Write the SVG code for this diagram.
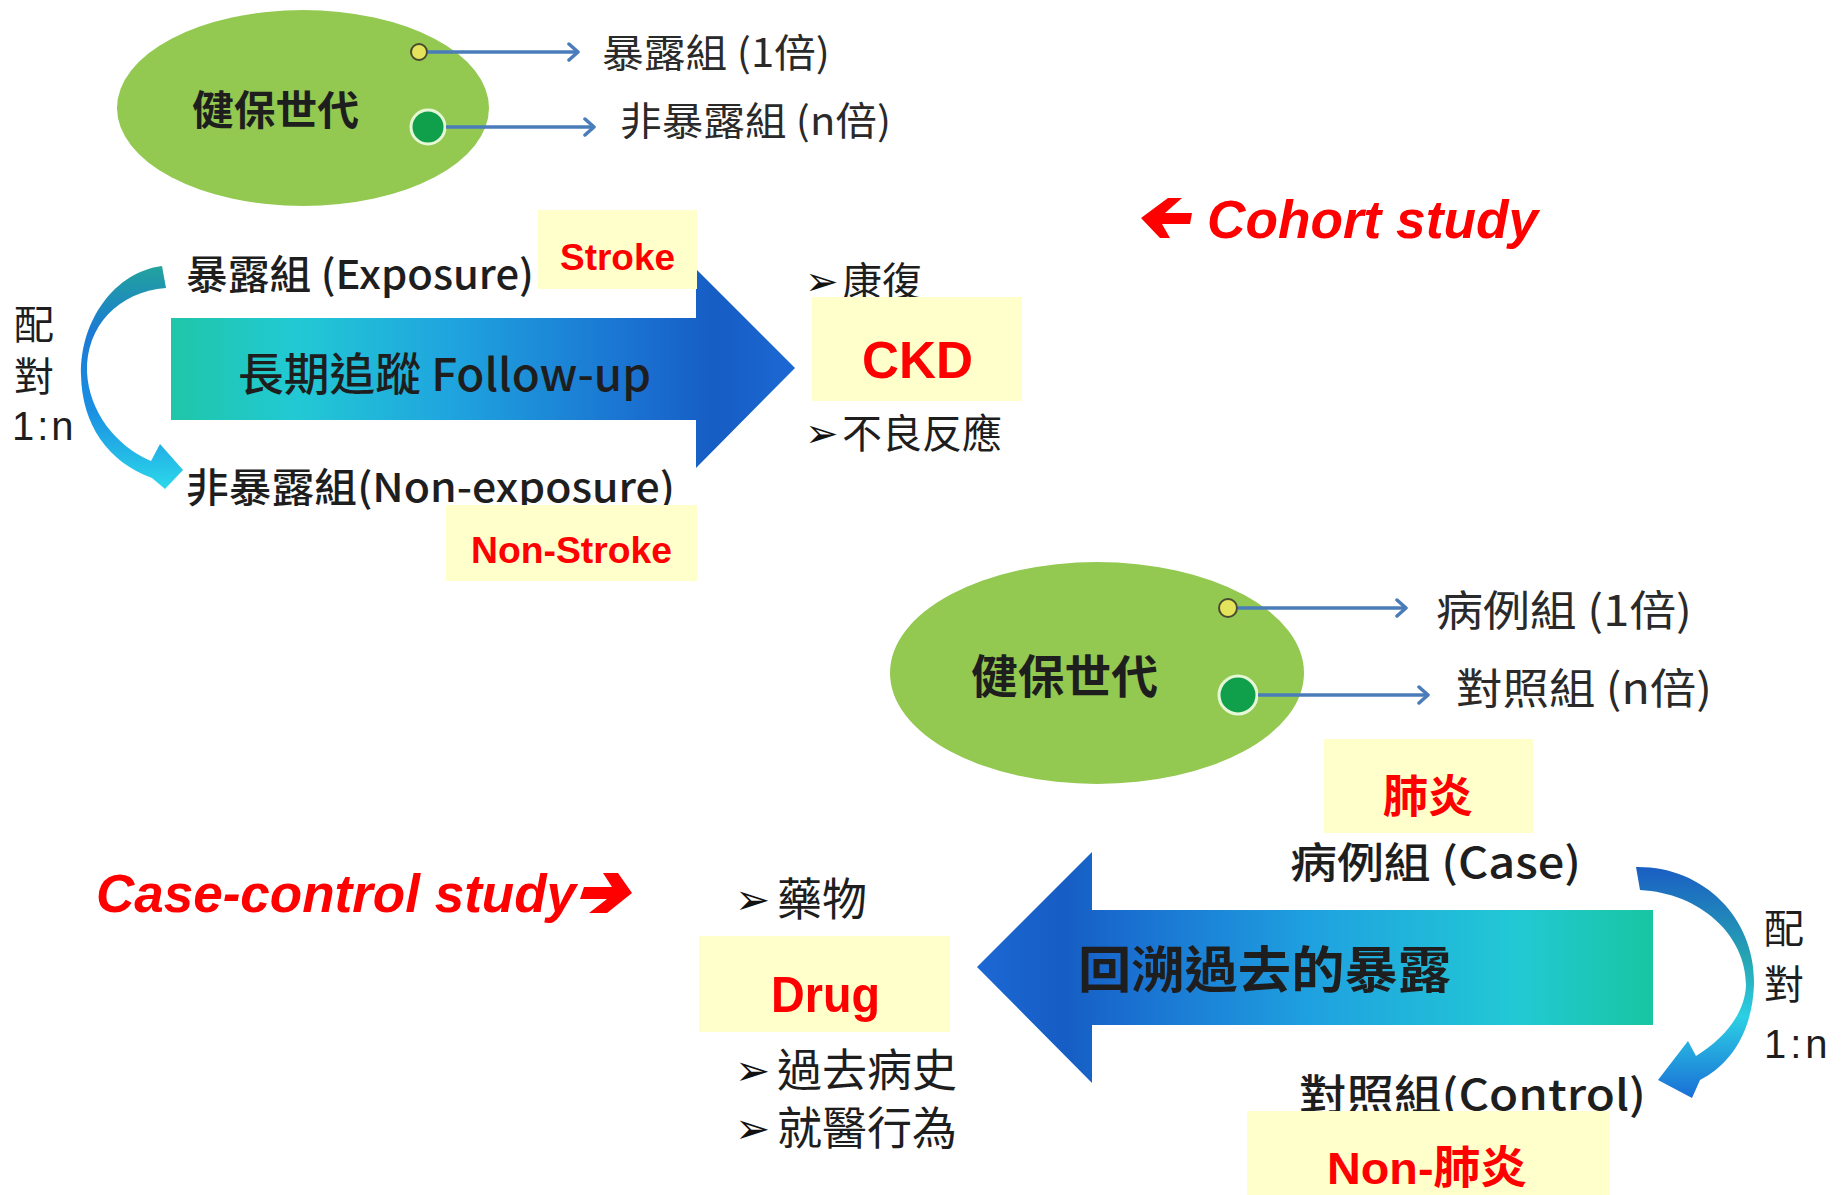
<svg xmlns="http://www.w3.org/2000/svg" width="1845" height="1195" viewBox="0 0 1845 1195">
<style>
.cjk{font-family:'Noto Sans CJK TC','Noto Sans CJK SC',sans-serif;fill:#1e1e1e;}
.tight{font-family:'Liberation Sans','Noto Sans CJK TC','Noto Sans CJK SC',sans-serif;fill:#1e1e1e;}
.lbl{font-family:'Noto Sans CJK TC','Noto Sans CJK SC',sans-serif;fill:#2a2a2a;}
.red{font-family:'Liberation Sans','Noto Sans CJK TC',sans-serif;font-weight:700;fill:#ff0000;}
.bul{font-family:'DejaVu Sans',sans-serif;font-weight:700;fill:#111;}
.box{fill:#ffffcc;}
.conn{stroke:#4a7cba;stroke-width:3.5;fill:none;}
.ell{fill:#93c851;}
.dotY{fill:#e4e45c;stroke:#4a4a30;stroke-width:2;}
.dotG{fill:#10a04c;stroke:#e6f7d6;stroke-width:3;}
</style>
<defs>
<marker id="chev" markerUnits="userSpaceOnUse" markerWidth="16" markerHeight="20" refX="11" refY="10" orient="auto">
<path d="M2,2 L11,10 L2,18" fill="none" stroke="#4a7cba" stroke-width="3.5" stroke-linecap="round" stroke-linejoin="round"/>
</marker>
<linearGradient id="gRight" gradientUnits="userSpaceOnUse" x1="171" y1="0" x2="795" y2="0">
<stop offset="0" stop-color="#1fc6a8"/>
<stop offset="0.2" stop-color="#22c9d4"/>
<stop offset="0.45" stop-color="#1fa4df"/>
<stop offset="0.75" stop-color="#1a70d0"/>
<stop offset="0.87" stop-color="#165dc4"/>
<stop offset="1" stop-color="#1c68d4"/>
</linearGradient>
<linearGradient id="gLeft" gradientUnits="userSpaceOnUse" x1="977" y1="0" x2="1653" y2="0">
<stop offset="0" stop-color="#1c68d4"/>
<stop offset="0.13" stop-color="#165dc4"/>
<stop offset="0.25" stop-color="#1a74d2"/>
<stop offset="0.5" stop-color="#1fa2e0"/>
<stop offset="0.8" stop-color="#22c9d4"/>
<stop offset="1" stop-color="#18c6a2"/>
</linearGradient>
<linearGradient id="gCurveL" x1="0" y1="0" x2="0" y2="1">
<stop offset="0" stop-color="#22a39c"/>
<stop offset="0.3" stop-color="#1b7ad4"/>
<stop offset="0.65" stop-color="#1a90e2"/>
<stop offset="1" stop-color="#2cd8ea"/>
</linearGradient>
<linearGradient id="gCurveR" x1="0" y1="0" x2="0" y2="1">
<stop offset="0" stop-color="#1a5ec4"/>
<stop offset="0.4" stop-color="#26a6b2"/>
<stop offset="0.65" stop-color="#2ccfe4"/>
<stop offset="1" stop-color="#1a6ed6"/>
</linearGradient>
</defs>

<!-- Top cohort ellipse -->
<g id="cohort-pop">
<ellipse class="ell" cx="303" cy="108" rx="186" ry="98"/>
<text class="cjk" x="192" y="107" font-size="41" font-weight="700" dominant-baseline="central" textLength="167" lengthAdjust="spacingAndGlyphs">健保世代</text>
<circle class="dotY" cx="419" cy="52" r="8"/>
<circle class="dotG" cx="428" cy="127" r="17"/>
</g>
<g id="exposed-1x">
<text class="lbl" x="602" y="50" font-size="39" dominant-baseline="central" textLength="228" lengthAdjust="spacingAndGlyphs" fill="#333">暴露組 (1倍)</text>
</g>
<g id="nonexposed-nx">
<text class="lbl" x="620" y="118" font-size="39" dominant-baseline="central" textLength="271" lengthAdjust="spacingAndGlyphs">非暴露組 (n倍)</text>
</g>

<!-- Cohort study label -->
<g id="cohort-label">
<path d="M1141,218 L1168,198 L1182,198 L1165,213 L1192,213 L1190,224 L1162,224 L1170,238 L1160,238 Z" fill="#ff0000"/>
<text class="red" x="1207" y="238" font-size="53" font-style="italic" textLength="331" lengthAdjust="spacingAndGlyphs">Cohort study</text>
</g>

<!-- Follow-up big arrow -->
<g id="followup-arrow">
<path d="M171,318 L696,318 L696,269 L795,368 L696,468 L696,420 L171,420 Z" fill="url(#gRight)"/>
<text class="cjk" x="238" y="371" font-size="45" font-weight="500" dominant-baseline="central" textLength="413" lengthAdjust="spacingAndGlyphs">長期追蹤 Follow-up</text>
</g>

<g id="match-left">
<text class="tight" font-size="40" dominant-baseline="central"><tspan x="14" y="325">配</tspan><tspan x="14" y="377">對</tspan><tspan x="12" y="426" letter-spacing="3">1:n</tspan></text>
</g>

<g id="exposure-group">
<text class="cjk" x="186" y="272" font-size="40" font-weight="500" dominant-baseline="central" textLength="348" lengthAdjust="spacingAndGlyphs">暴露組 (Exposure)</text>
</g>
<g id="nonexposure-group">
<text class="cjk" x="186" y="485" font-size="40" font-weight="500" dominant-baseline="central" textLength="489" lengthAdjust="spacingAndGlyphs">非暴露組(Non-exposure)</text>
</g>

<g id="outcomes">
<text font-size="40" dominant-baseline="central"><tspan class="bul" x="805" y="281" font-size="40">➢</tspan><tspan class="cjk" x="842" y="279">康復</tspan><tspan class="bul" x="805" y="433" font-size="40">➢</tspan><tspan class="cjk" x="842" y="431">不良反應</tspan></text>
</g>

<g id="stroke-box">
<rect class="box" x="538" y="210" width="159" height="79"/>
<text class="red" x="560" y="270" font-size="36" textLength="115" lengthAdjust="spacingAndGlyphs">Stroke</text>
</g>
<g id="nonstroke-box">
<rect class="box" x="446" y="505" width="251" height="76"/>
<text class="red" x="471" y="563" font-size="36" textLength="201" lengthAdjust="spacingAndGlyphs">Non-Stroke</text>
</g>
<g id="ckd-box">
<rect class="box" x="812" y="297" width="210" height="104"/>
<text class="red" x="862" y="378" font-size="52" textLength="111" lengthAdjust="spacingAndGlyphs">CKD</text>
</g>

<!-- Bottom case-control ellipse -->
<g id="cc-pop">
<ellipse class="ell" cx="1097" cy="673" rx="207" ry="111"/>
<text class="cjk" x="971" y="673" font-size="46" font-weight="700" dominant-baseline="central" textLength="187" lengthAdjust="spacingAndGlyphs">健保世代</text>
<circle class="dotY" cx="1228" cy="608" r="9"/>
<circle class="dotG" cx="1238" cy="695" r="19"/>
</g>
<g id="case-1x">
<text class="lbl" x="1436" y="607" font-size="42" dominant-baseline="central" textLength="256" lengthAdjust="spacingAndGlyphs">病例組 (1倍)</text>
</g>
<g id="control-nx">
<text class="lbl" x="1456" y="685" font-size="42" dominant-baseline="central" textLength="256" lengthAdjust="spacingAndGlyphs">對照組 (n倍)</text>
</g>

<g id="pneumonia-box">
<rect class="box" x="1324" y="739" width="209" height="94"/>
<text class="red" x="1383" y="797" font-size="45" dominant-baseline="central" textLength="90" lengthAdjust="spacingAndGlyphs">肺炎</text>
</g>

<g id="case-group">
<text class="cjk" x="1290" y="859" font-size="42" font-weight="500" dominant-baseline="central" textLength="291" lengthAdjust="spacingAndGlyphs">病例組 (Case)</text>
</g>

<g id="retro-arrow">
<path d="M1653,910 L1092,910 L1092,852 L977,967 L1092,1083 L1092,1025 L1653,1025 Z" fill="url(#gLeft)"/>
<text class="cjk" x="1078" y="966" font-size="50" font-weight="700" dominant-baseline="central" textLength="373" lengthAdjust="spacingAndGlyphs">回溯過去的暴露</text>
</g>

<g id="match-right">
<text class="tight" font-size="40" dominant-baseline="central"><tspan x="1764" y="929">配</tspan><tspan x="1764" y="985">對</tspan><tspan x="1764" y="1044" letter-spacing="4">1:n</tspan></text>
</g>

<g id="control-group">
<text class="cjk" x="1299" y="1091" font-size="42" font-weight="500" dominant-baseline="central" textLength="347" lengthAdjust="spacingAndGlyphs">對照組(Control)</text>
</g>
<g id="nonpneumonia-box">
<rect class="box" x="1247" y="1111" width="363" height="84"/>
<text class="red" x="1327" y="1168" font-size="45" dominant-baseline="central" textLength="200" lengthAdjust="spacingAndGlyphs">Non-肺炎</text>
</g>

<g id="cc-label">
<text class="red" x="96" y="912" font-size="53" font-style="italic" textLength="480" lengthAdjust="spacingAndGlyphs">Case-control study</text>
<path d="M584,887 L612,887 L603,873 L618,873 L632,893 L607,913 L589,913 L607,899 L580,899 Z" fill="#ff0000"/>
</g>

<g id="exposures">
<text class="tight" font-size="45" dominant-baseline="central"><tspan class="bul" x="735" y="899" font-size="42">➢</tspan><tspan x="777" y="900">藥物</tspan><tspan class="bul" x="735" y="1070" font-size="42">➢</tspan><tspan x="777" y="1071">過去病史</tspan><tspan class="bul" x="735" y="1128" font-size="42">➢</tspan><tspan x="777" y="1129">就醫行為</tspan></text>
</g>
<g id="drug-box">
<rect class="box" x="699" y="936" width="251" height="96"/>
<text class="red" x="771" y="1012" font-size="50" textLength="109" lengthAdjust="spacingAndGlyphs">Drug</text>
</g>

<!-- Connectors -->
<g id="connectors">
<line class="conn" x1="428" y1="52" x2="578" y2="52" marker-end="url(#chev)"/>
<line class="conn" x1="446" y1="127" x2="594" y2="127" marker-end="url(#chev)"/>
<line class="conn" x1="1238" y1="608" x2="1406" y2="608" marker-end="url(#chev)"/>
<line class="conn" x1="1258" y1="695" x2="1428" y2="695" marker-end="url(#chev)"/>
<path d="M162,266 C115,272 80,320 81,375 C82,425 108,462 152,478 L165,489 L183,470 L160,444 L151,461 C116,446 89,412 87,372 C86,326 118,292 166,288 Z" fill="url(#gCurveL)"/>
<path d="M1636,867 C1705,866 1756,920 1754,985 C1752,1035 1728,1066 1700,1080 L1692,1098 L1658,1080 L1688,1041 L1696,1056 C1722,1040 1745,1015 1746,985 C1746,935 1700,893 1640,890 Z" fill="url(#gCurveR)"/>
</g>
</svg>
